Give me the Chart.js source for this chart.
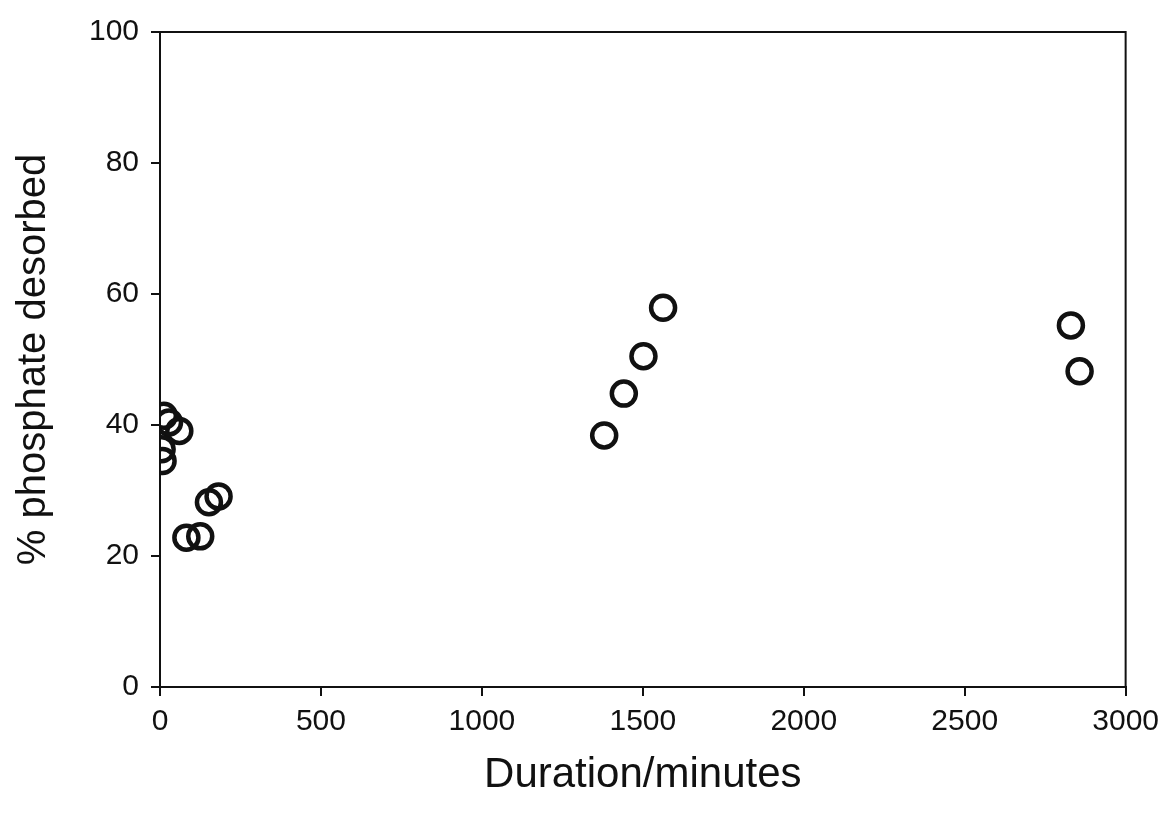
<!DOCTYPE html>
<html>
<head>
<meta charset="utf-8">
<script src="https://cdn.jsdelivr.net/npm/chart.js@4.4.1/dist/chart.umd.min.js"></script>
<style>
  html, body { margin: 0; padding: 0; background: #fff; }
  #wrap { width: 1167px; height: 825px; }
</style>
</head>
<body>
<div id="wrap"><canvas id="scatter"></canvas></div>
<script>
var durations = [12, 28, 60, 5, 8, 182, 152, 125, 82, 1380, 1441, 1502, 1563, 2830, 2857];
var desorbed = [41.4, 40.4, 39.1, 36.3, 34.5, 29.1, 28.2, 23.0, 22.8, 38.4, 44.8, 50.5, 57.9, 55.2, 48.2];
var xTicks = [0, 500, 1000, 1500, 2000, 2500, 3000];
var yTicks = [0, 20, 40, 60, 80, 100];

var points = durations.map(function (d, i) {
  return { x: d, y: desorbed[i] };
});

// top and right edges of the frame
var frameBox = {
  id: "frameBox",
  afterDraw: function (chart) {
    var a = chart.chartArea;
    var c = chart.ctx;
    c.save();
    c.strokeStyle = "#111";
    c.lineWidth = 2;
    c.beginPath();
    c.moveTo(a.left, a.top);
    c.lineTo(a.right, a.top);
    c.lineTo(a.right, a.bottom);
    c.stroke();
    c.restore();
  },
};

var tickFont = { family: "Liberation Sans", size: 30 };

var ctx = document.getElementById("scatter").getContext("2d");
var chart = new Chart(ctx, {
  type: "scatter",
  data: {
    datasets: [
      {
        label: "% phosphate desorbed",
        data: points,
        pointRadius: 12,
        pointHoverRadius: 12,
        pointBorderWidth: 4.5,
        pointBorderColor: "#111",
        pointBackgroundColor: "rgba(255,255,255,0)",
      },
    ],
  },
  options: {
    responsive: true,
    maintainAspectRatio: false,
    animation: false,
    layout: { padding: { left: 10, right: 37, top: 32, bottom: 20 } },
    plugins: {
      legend: { display: false },
      tooltip: { enabled: false },
    },
    scales: {
      x: {
        type: "linear",
        min: 0,
        max: 3000,
        afterBuildTicks: function (axis) {
          axis.ticks = xTicks.map(function (v) { return { value: v }; });
        },
        afterFit: function (axis) { axis.height = 118; },
        ticks: {
          color: "#111",
          font: tickFont,
          padding: 8,
          maxRotation: 0,
          callback: function (v) { return String(v); },
        },
        grid: { drawOnChartArea: false, drawTicks: true, tickLength: 9, color: "#111", lineWidth: 2 },
        border: { color: "#111", width: 2 },
        title: {
          display: true,
          text: "Duration/minutes",
          color: "#111",
          font: { family: "Liberation Sans", size: 42 },
          padding: { top: 4, bottom: 4 },
        },
      },
      y: {
        type: "linear",
        min: 0,
        max: 100,
        afterBuildTicks: function (axis) {
          axis.ticks = yTicks.map(function (v) { return { value: v }; });
        },
        afterFit: function (axis) { axis.width = 150; },
        ticks: {
          color: "#111",
          font: tickFont,
          padding: 12,
          callback: function (v) { return String(v); },
        },
        grid: { drawOnChartArea: false, drawTicks: true, tickLength: 9, color: "#111", lineWidth: 2 },
        border: { color: "#111", width: 2 },
        title: {
          display: true,
          text: "% phosphate desorbed",
          color: "#111",
          font: { family: "Liberation Sans", size: 40 },
          padding: { top: 0, bottom: 4 },
        },
      },
    },
  },
  plugins: [frameBox],
});
</script>
</body>
</html>
